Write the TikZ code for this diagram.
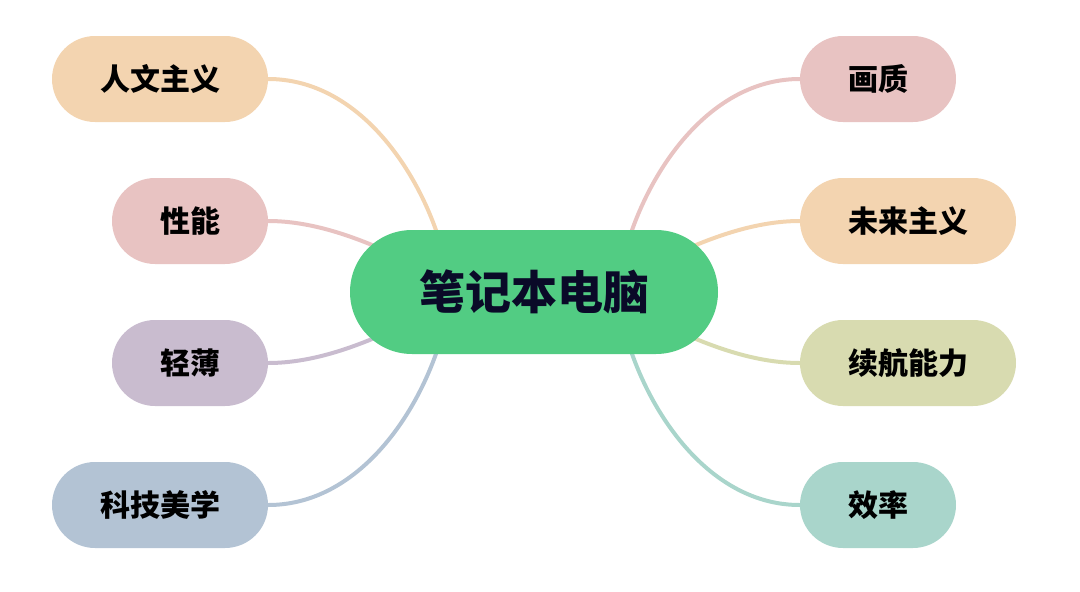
\documentclass[tikz,border=0pt]{standalone}
\usepackage{fontspec}
\newfontfamily\cjk{Noto Sans CJK SC}
\definecolor{cOrange}{HTML}{F3D4B0}
\definecolor{cPink}{HTML}{E8C3C2}
\definecolor{cPurple}{HTML}{C9BCCF}
\definecolor{cBlue}{HTML}{B3C3D4}
\definecolor{cOlive}{HTML}{D8DBB0}
\definecolor{cTeal}{HTML}{A9D5CB}
\definecolor{cGreen}{HTML}{52CC83}
\definecolor{cText}{HTML}{0A0A28}
\pgfdeclarelayer{links}
\pgfsetlayers{links,main}
\tikzset{
  leaf/.style={rectangle, rounded corners=43pt, minimum height=86pt, inner sep=0pt,
    font=\cjk\bfseries\fontsize{30}{34}\selectfont, text=black},
  wide/.style={leaf, minimum width=216pt},
  narrow/.style={leaf, minimum width=156pt},
  hub/.style={rectangle, rounded corners=62pt, minimum height=124pt, minimum width=368pt,
    inner sep=0pt, fill=cGreen, text=cText, font=\cjk\bfseries\fontsize{46}{52}\selectfont},
  link/.style={line width=4pt}
}
\begin{document}
\begin{tikzpicture}[x=1pt,y=-1pt]
\useasboundingbox (0,0) rectangle (1080,592);
\node[hub] (c) at (534,292) {笔记本电脑};
\node[wide, fill=cOrange] (l1) at (160,79) {人文主义};
\node[narrow, fill=cPink] (l2) at (190,221) {性能};
\node[narrow, fill=cPurple] (l3) at (190,363) {轻薄};
\node[wide, fill=cBlue] (l4) at (160,505) {科技美学};
\node[narrow, fill=cPink] (r1) at (878,79) {画质};
\node[wide, fill=cOrange] (r2) at (908,221) {未来主义};
\node[wide, fill=cOlive] (r3) at (908,363) {续航能力};
\node[narrow, fill=cTeal] (r4) at (878,505) {效率};
\begin{pgfonlayer}{links}
\draw[link, cOrange] (l1.east) .. controls +(85,0) and +(-25,-75) .. ([shift={(-96,-56)}]c.center);
\draw[link, cPink] (l2.east) .. controls +(45,0) and +(-28,-12) .. ([shift={(-150,-42)}]c.center);
\draw[link, cPurple] (l3.east) .. controls +(45,0) and +(-28,12) .. ([shift={(-150,42)}]c.center);
\draw[link, cBlue] (l4.east) .. controls +(85,0) and +(-25,75) .. ([shift={(-96,56)}]c.center);
\draw[link, cPink] (r1.west) .. controls +(-85,0) and +(25,-75) .. ([shift={(96,-56)}]c.center);
\draw[link, cOrange] (r2.west) .. controls +(-45,0) and +(28,-12) .. ([shift={(150,-42)}]c.center);
\draw[link, cOlive] (r3.west) .. controls +(-45,0) and +(28,12) .. ([shift={(150,42)}]c.center);
\draw[link, cTeal] (r4.west) .. controls +(-85,0) and +(25,75) .. ([shift={(96,56)}]c.center);
\end{pgfonlayer}
\end{tikzpicture}
\end{document}
